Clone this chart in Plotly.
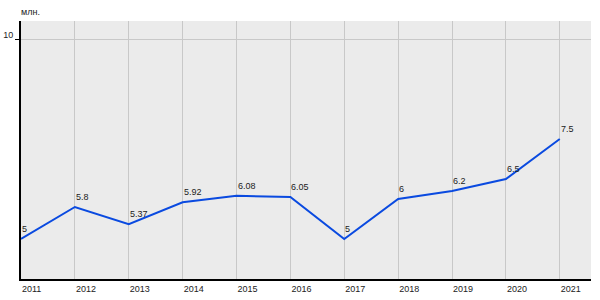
import plotly.graph_objects as go

years = [2011, 2012, 2013, 2014, 2015, 2016, 2017, 2018, 2019, 2020, 2021]
values = [5, 5.8, 5.37, 5.92, 6.08, 6.05, 5, 6, 6.2, 6.5, 7.5]
labels = ["5", "5.8", "5.37", "5.92", "6.08", "6.05", "5", "6", "6.2", "6.5", "7.5"]
y_ticks = [10]
unit_label = "млн."

FONT = "Liberation Sans, Arial, sans-serif"
FS = 9

fig = go.Figure()
fig.add_trace(go.Scatter(
    x=years, y=values, mode="lines",
    line=dict(color="#0a4ae0", width=2),
    hoverinfo="skip", showlegend=False,
))

for x, y, t in zip(years, values, labels):
    fig.add_annotation(
        x=x, y=y, text=t, showarrow=False,
        xanchor="left", yanchor="bottom", yshift=3, xshift=-1,
        font=dict(family=FONT, size=FS, color="#222222"),
    )

fig.add_annotation(
    xref="paper", yref="paper", x=0, y=1, text=unit_label, showarrow=False,
    xanchor="left", yanchor="bottom", yshift=2, xshift=-2,
    font=dict(family=FONT, size=FS, color="#222222"),
)

fig.update_layout(
    width=600, height=300,
    margin=dict(l=21, r=9, t=21, b=21, autoexpand=False),
    paper_bgcolor="white",
    plot_bgcolor="#ebebeb",
    font=dict(family=FONT, size=FS, color="#222222"),
)

fig.update_xaxes(
    range=[2011, 2021.58],
    tickvals=years, ticktext=[str(y) for y in years],
    ticklabelposition="outside right",
    automargin=False,
    showgrid=True, gridcolor="#c8c8c8", gridwidth=1,
    showline=True, linecolor="black", linewidth=2,
    ticks="", zeroline=False,
    tickfont=dict(family=FONT, size=FS, color="#222222"),
)
fig.update_yaxes(
    range=[4, 10.45],
    tickvals=y_ticks,
    automargin=False,
    showgrid=True, gridcolor="#c8c8c8", gridwidth=1,
    showline=True, linecolor="black", linewidth=2,
    ticks="outside", ticklen=4, tickcolor="black", tickwidth=1,
    ticklabelshift=-4, ticklabelstandoff=0,
    zeroline=False,
    tickfont=dict(family=FONT, size=FS, color="#222222"),
)

fig.write_html("out.html")
